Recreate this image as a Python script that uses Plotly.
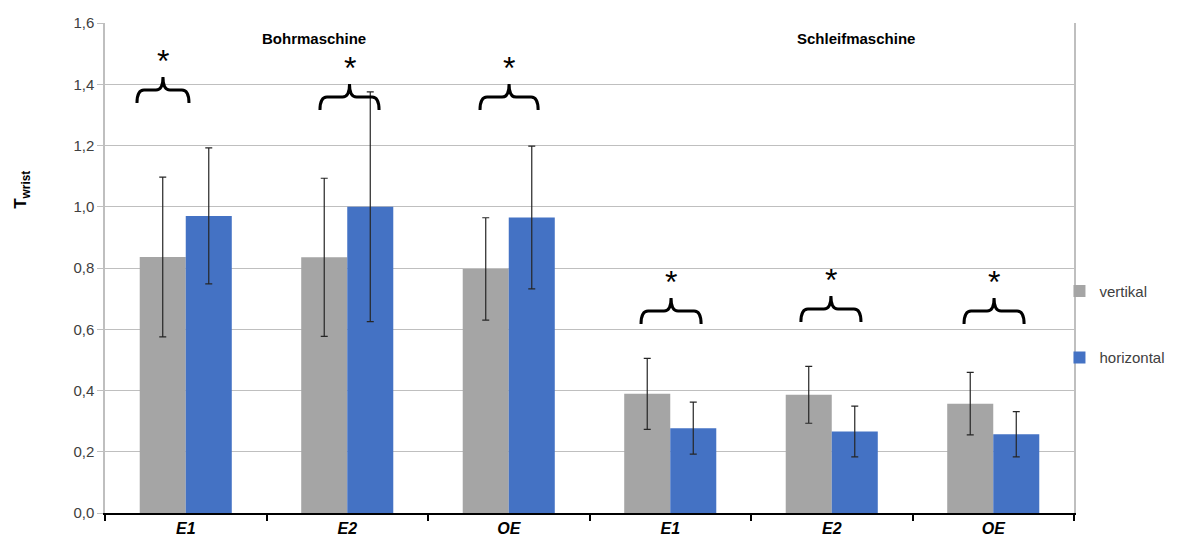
import plotly.graph_objects as go

# ---------------- data ----------------
categories = ["E1", "E2", "OE", "E1", "E2", "OE"]
vertikal = [0.836, 0.835, 0.797, 0.389, 0.386, 0.357]
vertikal_err = [0.261, 0.258, 0.167, 0.116, 0.093, 0.102]
horizontal = [0.970, 1.000, 0.965, 0.277, 0.266, 0.257]
horizontal_err = [0.222, 0.375, 0.233, 0.085, 0.083, 0.074]
y_ticks = [0.0, 0.2, 0.4, 0.6, 0.8, 1.0, 1.2, 1.4, 1.6]
group_titles = ["Bohrmaschine", "Schleifmaschine"]

# significance braces: (category index, x offset, half width, baseline y)
braces = [
    (0, -0.141, 0.161, 1.381),
    (1, 0.014, 0.183, 1.358),
    (2, 0.002, 0.180, 1.358),
    (3, 0.005, 0.186, 0.660),
    (4, -0.005, 0.186, 0.666),
    (5, 0.005, 0.186, 0.660),
]

GRAY = "#A5A5A5"
BLUE = "#4472C4"
FONT = "Liberation Sans, Arial, sans-serif"

x = list(range(len(categories)))

fig = go.Figure()
fig.add_trace(go.Bar(
    x=x, y=vertikal, name="vertikal", marker_color=GRAY, marker_line_width=0,
    error_y=dict(type="data", array=vertikal_err, color="#262626", thickness=1.2, width=3.5),
    legendgroup="v",
))
fig.add_trace(go.Bar(
    x=x, y=horizontal, name="horizontal", marker_color=BLUE, marker_line_width=0,
    error_y=dict(type="data", array=horizontal_err, color="#262626", thickness=1.2, width=3.5),
    legendgroup="h",
))

# pixel -> data scale factors (plot area 969 x 490 px)
PX_X = 6.0 / 969.0
PX_Y = 1.6 / 490.0

shapes = []
annotations = []
for idx, off, hw, yb in braces:
    xc = idx + off
    x0, x1 = xc - hw, xc + hw
    r = 7 * PX_X
    tip = yb - 13 * PX_Y
    peak = yb + 13 * PX_Y
    path = (
        f"M {x0},{tip} Q {x0},{yb} {x0 + r},{yb} "
        f"L {xc - r},{yb} Q {xc},{yb} {xc},{peak} "
        f"Q {xc},{yb} {xc + r},{yb} "
        f"L {x1 - r},{yb} Q {x1},{yb} {x1},{tip}"
    )
    shapes.append(dict(type="path", path=path, xref="x", yref="y",
                       line=dict(color="black", width=3)))
    annotations.append(dict(x=xc, y=peak - 4 * PX_Y, xref="x", yref="y",
                            text="*", showarrow=False, yanchor="bottom",
                            font=dict(size=32, color="black", family=FONT)))

annotations.append(dict(x=0.794, y=1.551, xref="x", yref="y", text="<b>" + group_titles[0] + "</b>",
                        showarrow=False, font=dict(size=15, color="black", family=FONT)))
annotations.append(dict(x=4.15, y=1.551, xref="x", yref="y", text="<b>" + group_titles[1] + "</b>",
                        showarrow=False, font=dict(size=15, color="black", family=FONT)))
annotations.append(dict(x=-0.0857, y=1.055, xref="paper", yref="y", text="<b>T<sub>wrist</sub></b>",
                        textangle=-90, showarrow=False, xanchor="center", yanchor="middle",
                        font=dict(size=17, color="black", family=FONT)))

fig.update_layout(
    width=1194, height=543,
    margin=dict(l=105, r=120, t=23, b=30, autoexpand=False),
    paper_bgcolor="white", plot_bgcolor="white",
    barmode="group", bargap=0.43, bargroupgap=0,
    separators=", ",
    font=dict(family=FONT, size=15, color="#404040"),
    shapes=shapes, annotations=annotations,
    legend=dict(x=0.985, y=0.385, xanchor="left", yanchor="middle",
                bgcolor="rgba(0,0,0,0)",
                font=dict(size=15, color="#404040", family=FONT),
                tracegroupgap=44, itemwidth=30),
    showlegend=True,
)
fig.update_xaxes(
    range=[-0.5, 5.5], tickvals=x,
    ticktext=["<b><i>" + c + "</i></b>" for c in categories],
    tickfont=dict(size=16, color="black", family=FONT),
    ticks="", showgrid=False, zeroline=False,
    showline=True, linecolor="black", linewidth=2,
    minor=dict(tickvals=[i - 0.5 for i in range(len(categories) + 1)],
               ticks="outside", ticklen=6, tickcolor="black", tickwidth=1.5, showgrid=False),
)
fig.update_yaxes(
    range=[0, 1.6], tickvals=y_ticks, tickformat=".1f",
    showgrid=True, gridcolor="#BFBFBF", gridwidth=1.3,
    zeroline=False, showline=True, linecolor="#BFBFBF", linewidth=1.5, mirror=True,
    ticks="outside", ticklen=6, tickcolor="#BFBFBF",
    tickfont=dict(size=15, color="#404040", family=FONT),
)

fig.write_html("out.html")
